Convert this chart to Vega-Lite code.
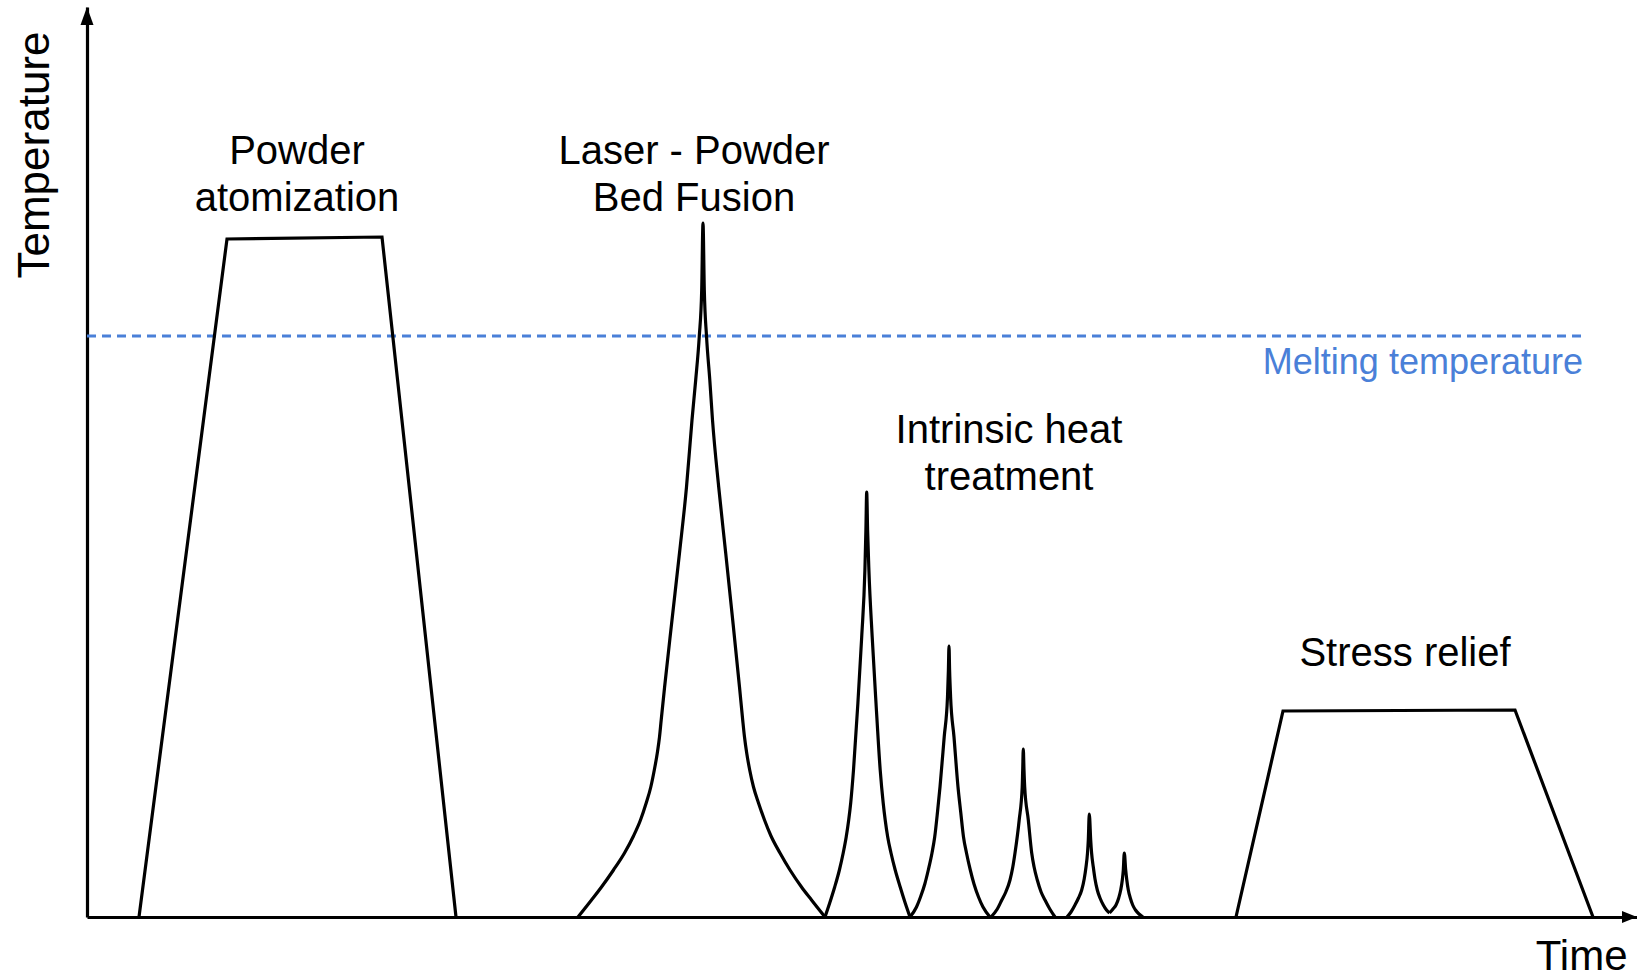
{
  "$schema": "https://vega.github.io/schema/vega-lite/v6.json",
  "width": 1550,
  "height": 910,
  "autosize": {"type": "none"},
  "padding": {"left": 87, "top": 7, "right": 0, "bottom": 60},
  "background": "white",
  "config": {"view": {"stroke": null}, "font": "Liberation Sans"},
  "datasets": {
    "trapezoids": [
      {"seg": "Powder atomization", "t": 5.2, "T": 0},
      {"seg": "Powder atomization", "t": 14.0, "T": 67.8},
      {"seg": "Powder atomization", "t": 29.5, "T": 68.0},
      {"seg": "Powder atomization", "t": 36.9, "T": 0},
      {"seg": "Stress relief", "t": 114.9, "T": 0},
      {"seg": "Stress relief", "t": 119.6, "T": 20.6},
      {"seg": "Stress relief", "t": 142.8, "T": 20.7},
      {"seg": "Stress relief", "t": 150.6, "T": 0}
    ],
    "peaks": [
      {"seg": "L-PBF", "t": 49.1, "T": 0},
      {"seg": "L-PBF", "t": 50.45, "T": 1.7},
      {"seg": "L-PBF", "t": 51.45, "T": 3.0},
      {"seg": "L-PBF", "t": 52.65, "T": 4.7},
      {"seg": "L-PBF", "t": 53.75, "T": 6.4},
      {"seg": "L-PBF", "t": 54.65, "T": 8.1},
      {"seg": "L-PBF", "t": 55.35, "T": 9.7},
      {"seg": "L-PBF", "t": 55.92, "T": 11.4},
      {"seg": "L-PBF", "t": 56.38, "T": 13.0},
      {"seg": "L-PBF", "t": 56.73, "T": 14.7},
      {"seg": "L-PBF", "t": 57.03, "T": 16.4},
      {"seg": "L-PBF", "t": 57.25, "T": 18.0},
      {"seg": "L-PBF", "t": 57.42, "T": 19.7},
      {"seg": "L-PBF", "t": 57.76, "T": 23.0},
      {"seg": "L-PBF", "t": 58.5, "T": 29.7},
      {"seg": "L-PBF", "t": 59.25, "T": 36.4},
      {"seg": "L-PBF", "t": 59.95, "T": 43.0},
      {"seg": "L-PBF", "t": 60.5, "T": 49.7},
      {"seg": "L-PBF", "t": 60.87, "T": 53.7},
      {"seg": "L-PBF", "t": 61.23, "T": 58.1},
      {"seg": "L-PBF", "t": 61.47, "T": 62.7},
      {"seg": "L-PBF", "t": 61.6, "T": 69.4},
      {"seg": "L-PBF", "t": 61.73, "T": 62.7},
      {"seg": "L-PBF", "t": 61.95, "T": 58.1},
      {"seg": "L-PBF", "t": 62.28, "T": 53.7},
      {"seg": "L-PBF", "t": 62.55, "T": 49.7},
      {"seg": "L-PBF", "t": 63.17, "T": 43.0},
      {"seg": "L-PBF", "t": 63.87, "T": 36.4},
      {"seg": "L-PBF", "t": 64.57, "T": 29.7},
      {"seg": "L-PBF", "t": 65.25, "T": 23.0},
      {"seg": "L-PBF", "t": 65.57, "T": 19.7},
      {"seg": "L-PBF", "t": 65.75, "T": 18.0},
      {"seg": "L-PBF", "t": 65.97, "T": 16.4},
      {"seg": "L-PBF", "t": 66.27, "T": 14.7},
      {"seg": "L-PBF", "t": 66.65, "T": 13.0},
      {"seg": "L-PBF", "t": 67.15, "T": 11.4},
      {"seg": "L-PBF", "t": 67.75, "T": 9.7},
      {"seg": "L-PBF", "t": 68.4, "T": 8.1},
      {"seg": "L-PBF", "t": 69.3, "T": 6.4},
      {"seg": "L-PBF", "t": 70.3, "T": 4.7},
      {"seg": "L-PBF", "t": 71.45, "T": 3.0},
      {"seg": "L-PBF", "t": 72.45, "T": 1.7},
      {"seg": "L-PBF", "t": 73.8, "T": 0},
      {"seg": "IHT 1", "t": 73.8, "T": 0},
      {"seg": "IHT 1", "t": 74.27, "T": 1.4},
      {"seg": "IHT 1", "t": 74.77, "T": 3.0},
      {"seg": "IHT 1", "t": 75.24, "T": 4.7},
      {"seg": "IHT 1", "t": 75.62, "T": 6.4},
      {"seg": "IHT 1", "t": 75.92, "T": 8.0},
      {"seg": "IHT 1", "t": 76.17, "T": 9.7},
      {"seg": "IHT 1", "t": 76.37, "T": 11.4},
      {"seg": "IHT 1", "t": 76.65, "T": 14.7},
      {"seg": "IHT 1", "t": 77.09, "T": 21.4},
      {"seg": "IHT 1", "t": 77.47, "T": 28.0},
      {"seg": "IHT 1", "t": 77.79, "T": 34.7},
      {"seg": "IHT 1", "t": 77.89, "T": 38.7},
      {"seg": "IHT 1", "t": 77.97, "T": 42.5},
      {"seg": "IHT 1", "t": 78.06, "T": 38.7},
      {"seg": "IHT 1", "t": 78.19, "T": 34.7},
      {"seg": "IHT 1", "t": 78.52, "T": 28.0},
      {"seg": "IHT 1", "t": 78.9, "T": 21.4},
      {"seg": "IHT 1", "t": 79.32, "T": 14.7},
      {"seg": "IHT 1", "t": 79.62, "T": 11.4},
      {"seg": "IHT 1", "t": 79.82, "T": 9.7},
      {"seg": "IHT 1", "t": 80.07, "T": 8.0},
      {"seg": "IHT 1", "t": 80.4, "T": 6.4},
      {"seg": "IHT 1", "t": 80.82, "T": 4.7},
      {"seg": "IHT 1", "t": 81.32, "T": 3.0},
      {"seg": "IHT 1", "t": 81.82, "T": 1.4},
      {"seg": "IHT 1", "t": 82.3, "T": 0},
      {"seg": "IHT 2", "t": 82.3, "T": 0},
      {"seg": "IHT 2", "t": 82.95, "T": 1.0},
      {"seg": "IHT 2", "t": 83.35, "T": 2.0},
      {"seg": "IHT 2", "t": 83.78, "T": 3.3},
      {"seg": "IHT 2", "t": 84.13, "T": 4.7},
      {"seg": "IHT 2", "t": 84.5, "T": 6.4},
      {"seg": "IHT 2", "t": 84.77, "T": 8.0},
      {"seg": "IHT 2", "t": 85.05, "T": 10.5},
      {"seg": "IHT 2", "t": 85.3, "T": 13.0},
      {"seg": "IHT 2", "t": 85.72, "T": 18.0},
      {"seg": "IHT 2", "t": 86.05, "T": 22.0},
      {"seg": "IHT 2", "t": 86.14, "T": 24.7},
      {"seg": "IHT 2", "t": 86.2, "T": 27.1},
      {"seg": "IHT 2", "t": 86.26, "T": 24.7},
      {"seg": "IHT 2", "t": 86.36, "T": 22.0},
      {"seg": "IHT 2", "t": 86.7, "T": 18.0},
      {"seg": "IHT 2", "t": 87.1, "T": 13.0},
      {"seg": "IHT 2", "t": 87.37, "T": 10.5},
      {"seg": "IHT 2", "t": 87.65, "T": 8.0},
      {"seg": "IHT 2", "t": 87.95, "T": 6.4},
      {"seg": "IHT 2", "t": 88.33, "T": 4.7},
      {"seg": "IHT 2", "t": 88.7, "T": 3.3},
      {"seg": "IHT 2", "t": 89.15, "T": 2.0},
      {"seg": "IHT 2", "t": 89.6, "T": 1.0},
      {"seg": "IHT 2", "t": 90.3, "T": 0},
      {"seg": "IHT 3", "t": 90.4, "T": 0},
      {"seg": "IHT 3", "t": 91.03, "T": 0.8},
      {"seg": "IHT 3", "t": 91.48, "T": 1.7},
      {"seg": "IHT 3", "t": 91.88, "T": 2.5},
      {"seg": "IHT 3", "t": 92.3, "T": 3.7},
      {"seg": "IHT 3", "t": 92.58, "T": 5.0},
      {"seg": "IHT 3", "t": 92.8, "T": 6.4},
      {"seg": "IHT 3", "t": 93.22, "T": 9.7},
      {"seg": "IHT 3", "t": 93.52, "T": 13.0},
      {"seg": "IHT 3", "t": 93.57, "T": 14.7},
      {"seg": "IHT 3", "t": 93.63, "T": 16.8},
      {"seg": "IHT 3", "t": 93.7, "T": 14.7},
      {"seg": "IHT 3", "t": 93.77, "T": 13.0},
      {"seg": "IHT 3", "t": 94.13, "T": 9.7},
      {"seg": "IHT 3", "t": 94.47, "T": 6.4},
      {"seg": "IHT 3", "t": 94.71, "T": 5.0},
      {"seg": "IHT 3", "t": 95.03, "T": 3.7},
      {"seg": "IHT 3", "t": 95.41, "T": 2.5},
      {"seg": "IHT 3", "t": 95.8, "T": 1.7},
      {"seg": "IHT 3", "t": 96.28, "T": 0.8},
      {"seg": "IHT 3", "t": 96.8, "T": 0},
      {"seg": "IHT 4", "t": 98.0, "T": 0},
      {"seg": "IHT 4", "t": 98.4, "T": 0.5},
      {"seg": "IHT 4", "t": 98.8, "T": 1.2},
      {"seg": "IHT 4", "t": 99.15, "T": 1.9},
      {"seg": "IHT 4", "t": 99.47, "T": 2.7},
      {"seg": "IHT 4", "t": 99.72, "T": 3.8},
      {"seg": "IHT 4", "t": 99.9, "T": 5.0},
      {"seg": "IHT 4", "t": 100.05, "T": 6.4},
      {"seg": "IHT 4", "t": 100.13, "T": 7.7},
      {"seg": "IHT 4", "t": 100.23, "T": 10.3},
      {"seg": "IHT 4", "t": 100.37, "T": 7.7},
      {"seg": "IHT 4", "t": 100.46, "T": 6.4},
      {"seg": "IHT 4", "t": 100.63, "T": 5.0},
      {"seg": "IHT 4", "t": 100.8, "T": 3.8},
      {"seg": "IHT 4", "t": 101.03, "T": 2.7},
      {"seg": "IHT 4", "t": 101.3, "T": 1.9},
      {"seg": "IHT 4", "t": 101.63, "T": 1.2},
      {"seg": "IHT 4", "t": 101.95, "T": 0.7},
      {"seg": "IHT 4", "t": 102.25, "T": 0.4},
      {"seg": "IHT 5", "t": 102.25, "T": 0.4},
      {"seg": "IHT 5", "t": 102.6, "T": 0.8},
      {"seg": "IHT 5", "t": 102.9, "T": 1.2},
      {"seg": "IHT 5", "t": 103.17, "T": 1.9},
      {"seg": "IHT 5", "t": 103.37, "T": 2.7},
      {"seg": "IHT 5", "t": 103.53, "T": 3.7},
      {"seg": "IHT 5", "t": 103.63, "T": 4.7},
      {"seg": "IHT 5", "t": 103.73, "T": 6.4},
      {"seg": "IHT 5", "t": 103.87, "T": 4.7},
      {"seg": "IHT 5", "t": 103.98, "T": 3.7},
      {"seg": "IHT 5", "t": 104.13, "T": 2.7},
      {"seg": "IHT 5", "t": 104.33, "T": 1.9},
      {"seg": "IHT 5", "t": 104.57, "T": 1.2},
      {"seg": "IHT 5", "t": 104.85, "T": 0.7},
      {"seg": "IHT 5", "t": 105.2, "T": 0.3},
      {"seg": "IHT 5", "t": 105.6, "T": 0}
    ],
    "melting": [{"t": 0, "t1": 149.7, "T": 58.1}],
    "arrows": [
      {"t": 0, "T": 91, "dir": "up"},
      {"t": 155, "T": 0, "dir": "right"}
    ],
    "labels": [
      {"t": 21.0, "T": 75.3, "label": "Powder\natomization"},
      {"t": 60.7, "T": 75.3, "label": "Laser - Powder\nBed Fusion"},
      {"t": 92.2, "T": 47.4, "label": "Intrinsic heat\ntreatment"},
      {"t": 131.8, "T": 25.1, "label": "Stress relief"}
    ],
    "bluelabels": [
      {"t": 149.6, "T": 54.3, "label": "Melting temperature"}
    ]
  },
  "encoding": {
    "x": {
      "field": "t",
      "type": "quantitative",
      "scale": {"domain": [0, 155], "nice": false, "zero": false},
      "axis": {
        "title": "Time",
        "domain": true,
        "domainColor": "black",
        "domainWidth": 3.2,
        "ticks": false,
        "labels": false,
        "grid": false,
        "titleFont": "Liberation Sans",
        "titleFontSize": 42,
        "titleFontWeight": "normal",
        "titleColor": "black",
        "titleAngle": 0,
        "titleAlign": "right",
        "titleBaseline": "alphabetic",
        "titleX": 1540,
        "titleY": 52
      }
    },
    "y": {
      "field": "T",
      "type": "quantitative",
      "scale": {"domain": [0, 91], "nice": false, "zero": false},
      "axis": {
        "title": "Temperature",
        "domain": true,
        "domainColor": "black",
        "domainWidth": 3.2,
        "ticks": false,
        "labels": false,
        "grid": false,
        "titleFont": "Liberation Sans",
        "titleFontSize": 44,
        "titleFontWeight": "normal",
        "titleColor": "black",
        "titleAngle": -90,
        "titleAlign": "right",
        "titleBaseline": "alphabetic",
        "titleX": -39,
        "titleY": 24
      }
    }
  },
  "layer": [
    {
      "data": {"name": "melting"},
      "mark": {"type": "rule", "color": "#4a80d8", "strokeWidth": 3, "strokeDash": [9, 6]},
      "encoding": {"x2": {"field": "t1"}}
    },
    {
      "data": {"name": "trapezoids"},
      "mark": {"type": "line", "color": "black", "strokeWidth": 3.2, "interpolate": "linear"},
      "encoding": {"detail": {"field": "seg", "type": "nominal"}}
    },
    {
      "data": {"name": "peaks"},
      "mark": {"type": "line", "color": "black", "strokeWidth": 3.2, "interpolate": "monotone"},
      "encoding": {"detail": {"field": "seg", "type": "nominal"}}
    },
    {
      "data": {"name": "arrows"},
      "mark": {"type": "point", "filled": true, "color": "black", "opacity": 1, "size": 400, "strokeWidth": 0},
      "encoding": {
        "shape": {
          "field": "dir",
          "type": "nominal",
          "scale": {"domain": ["up", "right"], "range": ["M0,0L0.65,1.8L-0.65,1.8Z", "M0,0L-1.5,-0.6L-1.5,0.6Z"]},
          "legend": null
        }
      }
    },
    {
      "data": {"name": "labels"},
      "mark": {"type": "text", "font": "Liberation Sans", "fontSize": 40, "color": "black", "align": "center", "baseline": "alphabetic", "lineBreak": "\n", "lineHeight": 47},
      "encoding": {"text": {"field": "label", "type": "nominal"}}
    },
    {
      "data": {"name": "bluelabels"},
      "mark": {"type": "text", "font": "Liberation Sans", "fontSize": 36, "color": "#4a80d8", "align": "right", "baseline": "alphabetic"},
      "encoding": {"text": {"field": "label", "type": "nominal"}}
    }
  ]
}
